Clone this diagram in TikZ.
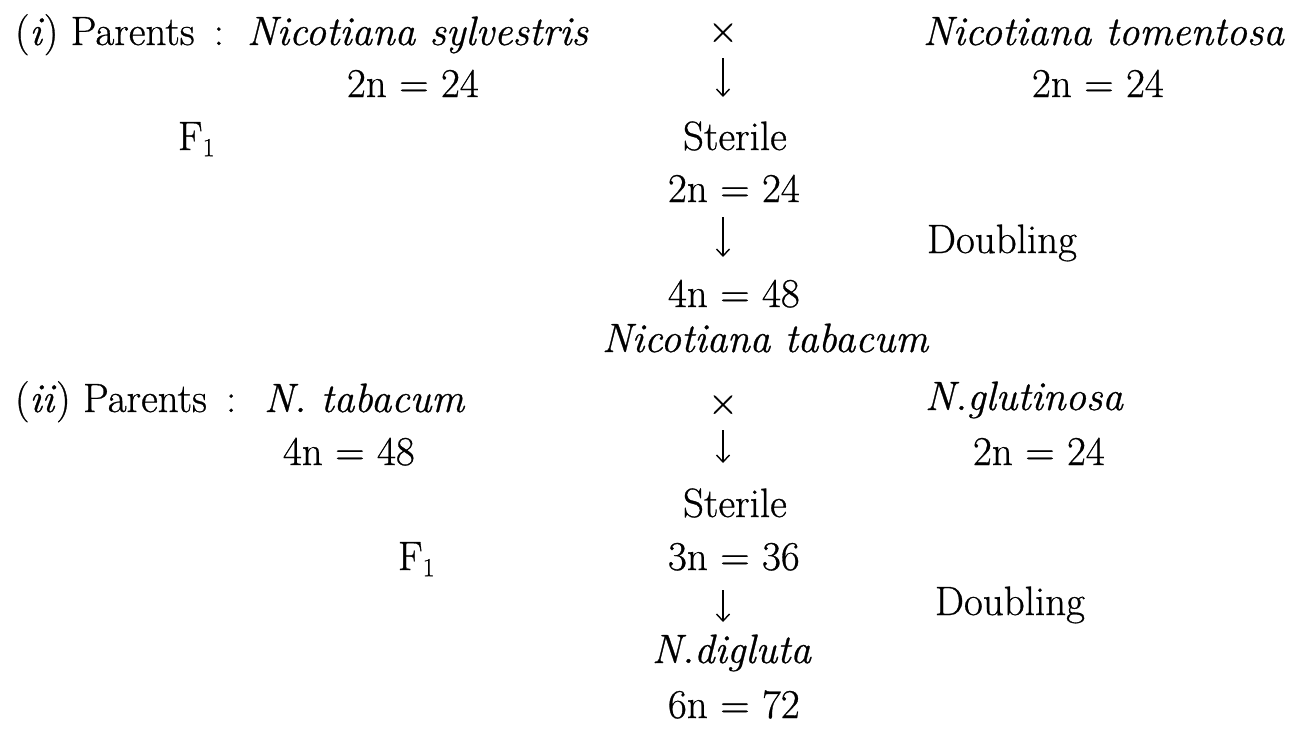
\documentclass[tikz,border=0pt]{standalone}
\usepackage{fontspec}
\setmainfont{Latin Modern Roman}[FakeBold=0.7, ItalicFeatures={FakeBold=0.7}]
\usetikzlibrary{arrows.meta}
\tikzset{
  txt/.style={inner sep=0pt, outer sep=0pt, anchor=base west, font=\fontsize{41}{48}\selectfont},
  arr/.style={line width=1.4pt, -{Straight Barb[length=7pt,width=13pt]}}
}
\begin{document}
\begin{tikzpicture}[x=1pt,y=-1pt]
\useasboundingbox[fill=white] (0,0) rectangle (1295,734);
% ---- (i) ----
\node[txt] (p1) at (15,45) {(\textit{i}) Parents \,:};
\node[txt] (syl) at (247,45) {\textit{Nicotiana sylvestris}};
\node[txt, anchor=center] (x1) at (723,33) {×};
\node[txt] (tom) at (923,45) {\textit{Nicotiana tomentosa}};
\node[txt] (syln) at (347,97) {2n = 24};
\node[txt] (tomn) at (1032,97) {2n = 24};
\coordinate (a1s) at (723,58);
\coordinate (a1e) at (723,97);
\draw[arr] (a1s) -- (a1e);
\node[txt] (f1a) at (178,150) {F\raisebox{-0.35ex}{\fontsize{26}{30}\selectfont 1}};
\node[txt] (st1) at (683,150) {Sterile};
\node[txt] (n1) at (668,202) {2n = 24};
\coordinate (a2s) at (723,217);
\coordinate (a2e) at (723,257);
\draw[arr] (a2s) -- (a2e);
\node[txt] (d1) at (927,253) {Doubling};
\node[txt] (n2) at (668,307) {4n = 48};
\node[txt] (tab) at (602,352) {\textit{Nicotiana tabacum}};
% ---- (ii) ----
\node[txt] (p2) at (15,412) {(\textit{ii}) Parents \,:};
\node[txt, anchor=base east] (ntab) at (465,412) {\textit{N. tabacum}};
\node[txt, anchor=center] (x2) at (723,405) {×};
\node[txt] (glu) at (925,410) {\textit{N.glutinosa}};
\node[txt] (tabn) at (283,465) {4n = 48};
\node[txt] (glun) at (973,465) {2n = 24};
\coordinate (a3s) at (723,430);
\coordinate (a3e) at (723,463);
\draw[arr] (a3s) -- (a3e);
\node[txt] (st2) at (683,517) {Sterile};
\node[txt] (f1b) at (398,570) {F\raisebox{-0.35ex}{\fontsize{26}{30}\selectfont 1}};
\node[txt] (n3) at (668,570) {3n = 36};
\coordinate (a4s) at (723,590);
\coordinate (a4e) at (723,622);
\draw[arr] (a4s) -- (a4e);
\node[txt] (d2) at (935,615) {Doubling};
\node[txt] (dig) at (652,663) {\textit{N.digluta}};
\node[txt] (n4) at (668,718) {6n = 72};
\end{tikzpicture}
\end{document}
